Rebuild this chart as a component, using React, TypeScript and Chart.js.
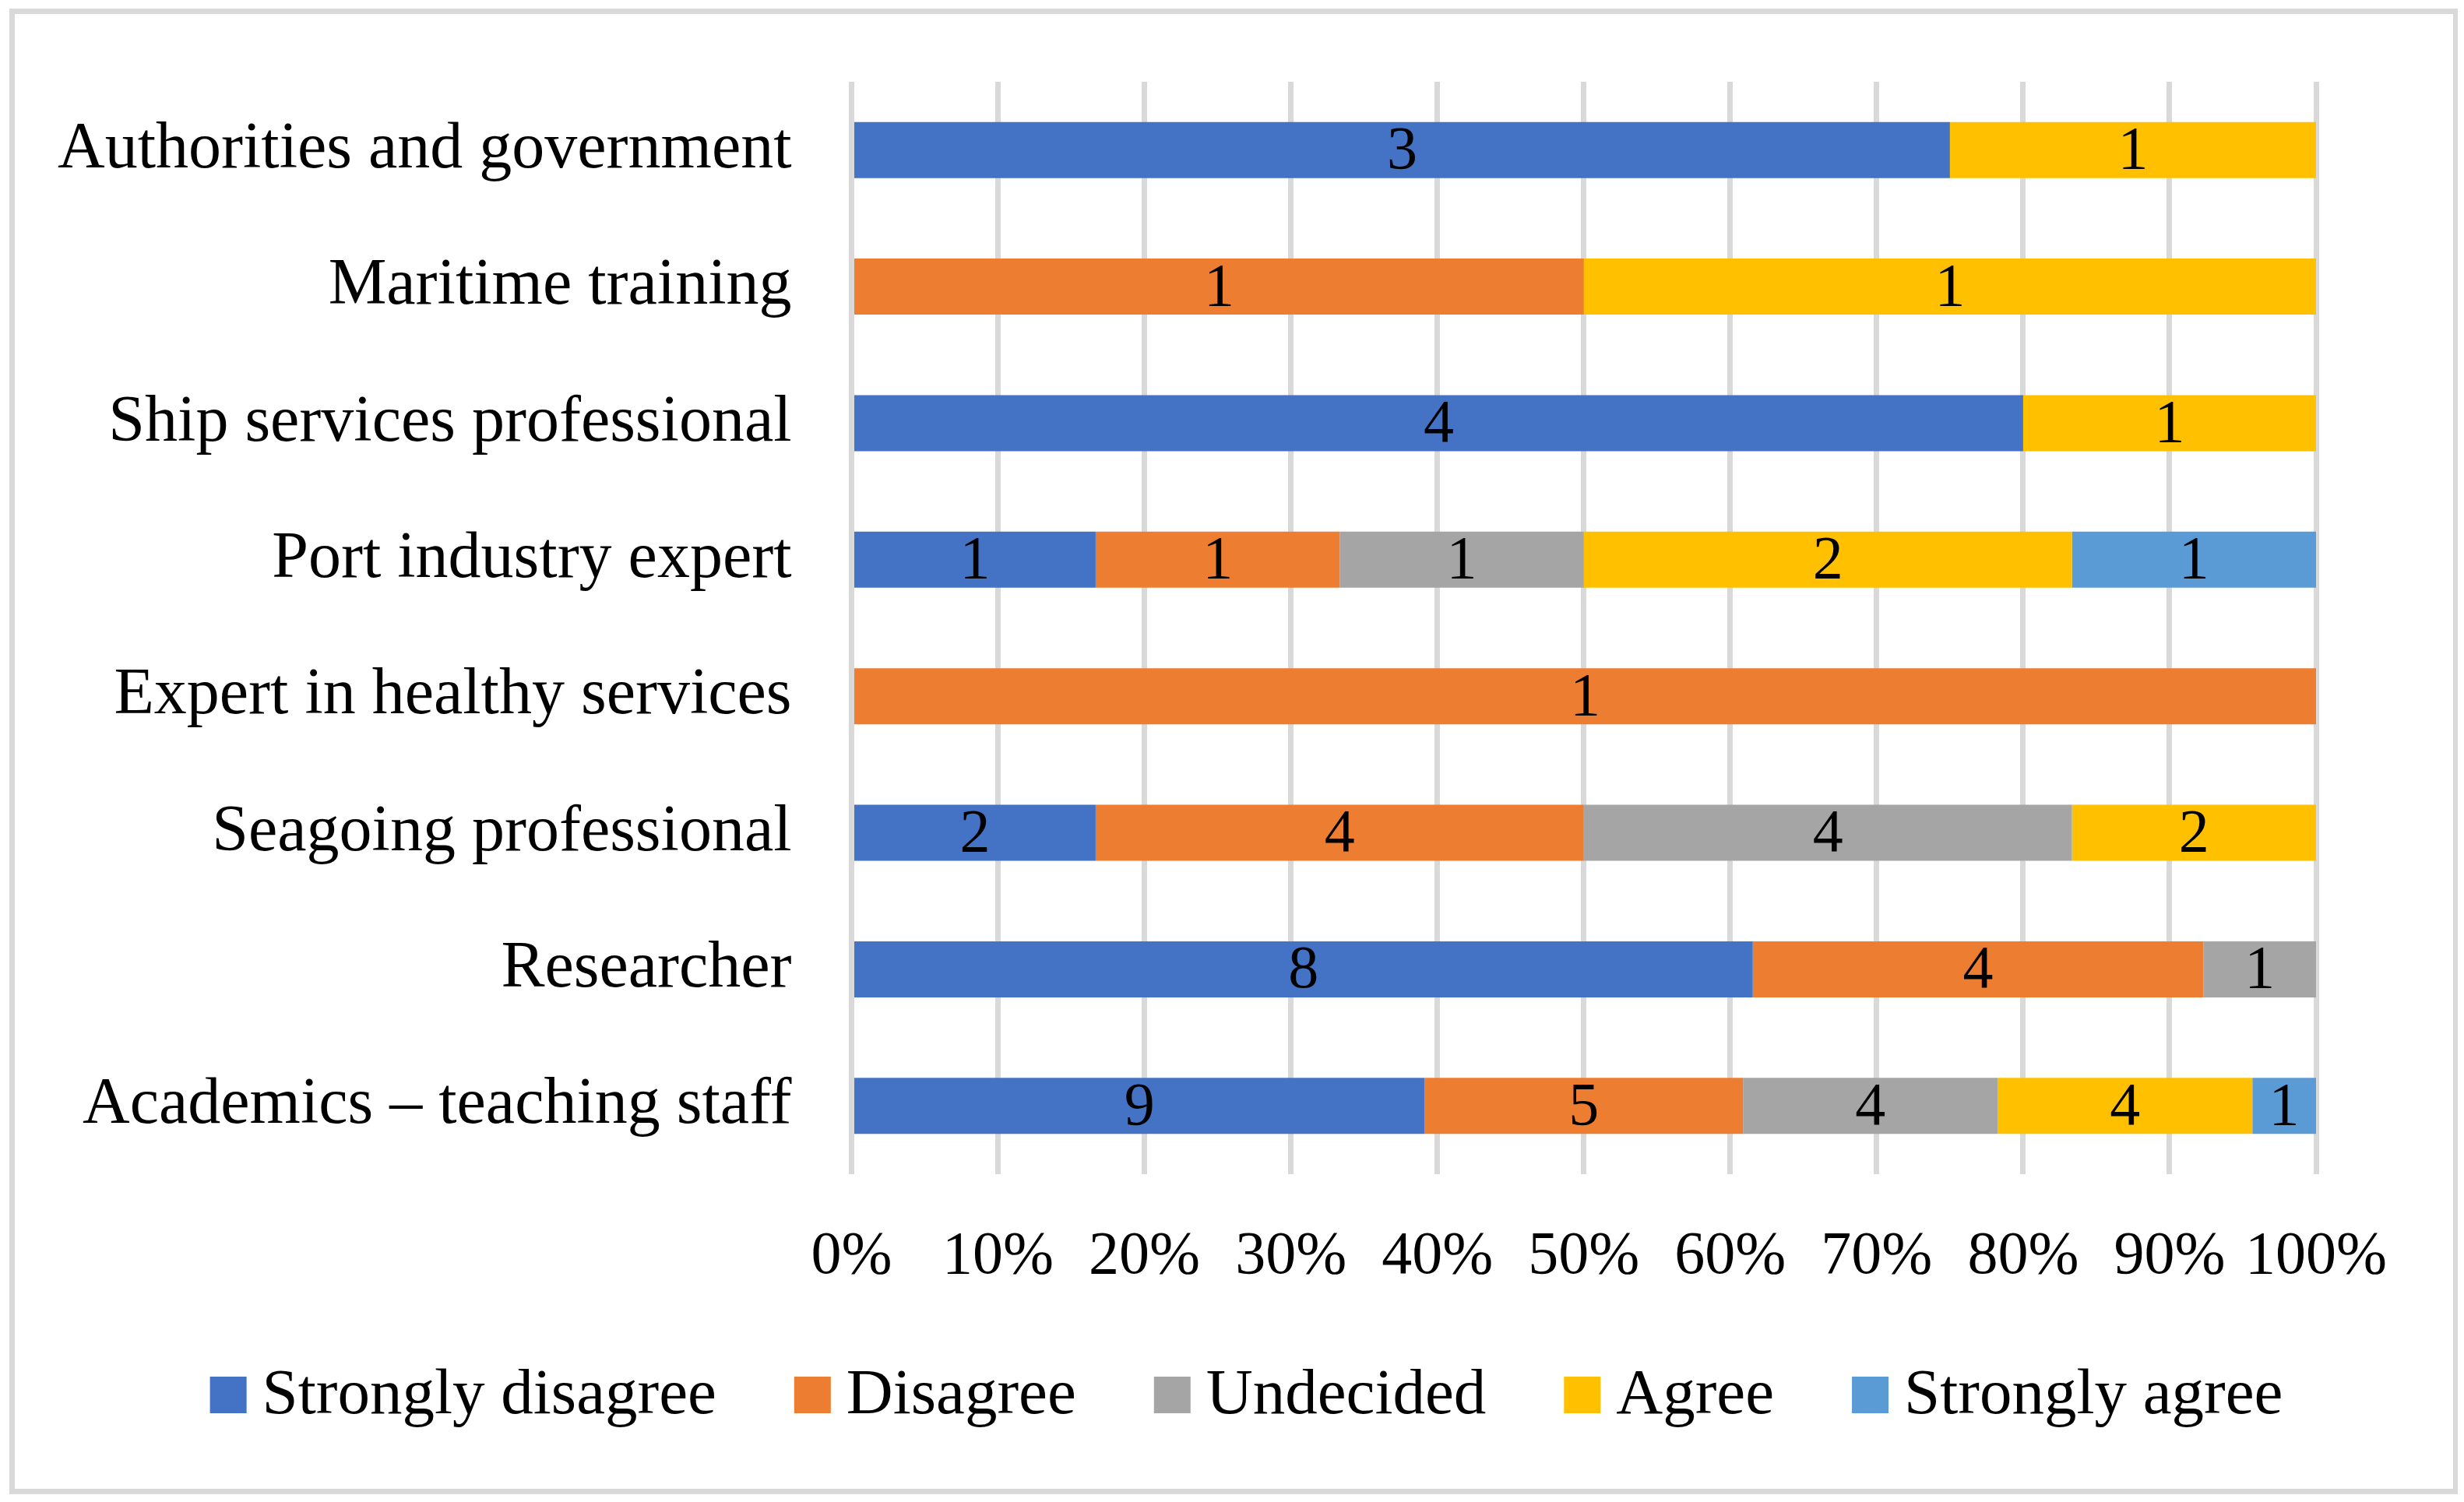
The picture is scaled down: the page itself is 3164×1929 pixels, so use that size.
import React, { useEffect, useRef } from "react";
import { Chart, registerables } from "chart.js";

Chart.register(...registerables);

const categories = [
  "Authorities and government",
  "Maritime training",
  "Ship services professional",
  "Port industry expert",
  "Expert in healthy services",
  "Seagoing professional",
  "Researcher",
  "Academics – teaching staff",
];
const seriesNames = ["Strongly disagree", "Disagree", "Undecided", "Agree", "Strongly agree"];
const stronglyDisagree = [3, 0, 4, 1, 0, 2, 8, 9];
const disagree = [0, 1, 0, 1, 1, 4, 4, 5];
const undecided = [0, 0, 0, 1, 0, 4, 1, 4];
const agree = [1, 1, 1, 2, 0, 2, 0, 4];
const stronglyAgree = [0, 0, 0, 1, 0, 0, 0, 1];
const seriesColors = ["#4472C4", "#ED7D31", "#A5A5A5", "#FFC000", "#5B9BD5"];
const xTickStep = 10;

const FONT = "'Liberation Serif', 'Times New Roman', serif";

const dataLabelPlugin = {
  id: "dataLabels",
  afterDatasetsDraw(chart: any) {
    const ctx = chart.ctx;
    ctx.save();
    ctx.font = `78px ${FONT}`;
    ctx.fillStyle = "#000000";
    ctx.textAlign = "center";
    ctx.textBaseline = "middle";
    chart.data.datasets.forEach((ds: any, i: number) => {
      const meta = chart.getDatasetMeta(i);
      meta.data.forEach((el: any, j: number) => {
        const c = ds.counts[j];
        if (!c) return;
        const p = el.getCenterPoint();
        ctx.fillText(String(c), p.x, p.y + 3);
      });
    });
    ctx.restore();
  },
};

const legendPlugin = {
  id: "customLegend",
  afterDraw(chart: any) {
    const ctx = chart.ctx;
    ctx.save();
    ctx.font = `83px ${FONT}`;
    const box = 47;
    const gapText = 20;
    const gapItem = 100;
    const items = chart.data.datasets.map((d: any) => ({
      label: d.label,
      color: d.backgroundColor,
      w: ctx.measureText(d.label).width,
    }));
    const total =
      items.reduce((s: number, it: any) => s + box + gapText + it.w, 0) + gapItem * (items.length - 1);
    let x = chart.width / 2 + 16 - total / 2;
    const baseline = chart.chartArea.bottom + 307;
    ctx.textBaseline = "alphabetic";
    ctx.textAlign = "left";
    items.forEach((it: any) => {
      ctx.fillStyle = it.color;
      ctx.fillRect(x, baseline - box, box, box);
      ctx.fillStyle = "#000000";
      ctx.fillText(it.label, x + box + gapText, baseline);
      x += box + gapText + it.w + gapItem;
    });
    ctx.restore();
  },
};

export default function App() {
  const canvasRef = useRef<HTMLCanvasElement | null>(null);

  useEffect(() => {
    if (!canvasRef.current) return;
    const raw = [stronglyDisagree, disagree, undecided, agree, stronglyAgree];
    const totals = categories.map((_, j) => raw.reduce((s, arr) => s + arr[j], 0));
    const datasets = raw.map((arr, i) => ({
      label: seriesNames[i],
      data: arr.map((v, j) => (v / totals[j]) * 100),
      counts: arr,
      backgroundColor: seriesColors[i],
      borderWidth: 0,
      barPercentage: 0.41,
      categoryPercentage: 1,
    }));

    const chart = new Chart(canvasRef.current, {
      type: "bar",
      data: { labels: categories, datasets: datasets as any },
      plugins: [dataLabelPlugin, legendPlugin],
      options: {
        animation: false,
        responsive: true,
        maintainAspectRatio: false,
        devicePixelRatio: 1,
        indexAxis: "y",
        layout: { padding: { top: 87, right: 176, left: 0, bottom: 0 } },
        plugins: {
          legend: { display: false },
          tooltip: { enabled: false },
          title: { display: false },
        },
        scales: {
          x: {
            stacked: true,
            min: 0,
            max: 100,
            ticks: {
              stepSize: xTickStep,
              callback: (v: any) => `${v}%`,
              font: { family: FONT, size: 78 },
              color: "#000000",
              padding: 60,
              maxRotation: 0,
              autoSkip: false,
            },
            grid: { color: "#D9D9D9", lineWidth: 7, drawTicks: false },
            border: { display: false },
            afterFit: (s: any) => {
              s.height = 404;
              s.paddingLeft = 0;
              s.paddingRight = 0;
            },
          },
          y: {
            stacked: true,
            ticks: {
              font: { family: FONT, size: 84 },
              color: "#000000",
              padding: 69,
              autoSkip: false,
            },
            grid: { display: false },
            border: { display: false },
            afterFit: (s: any) => {
              s.width = 1074.5;
              s.paddingTop = 0;
              s.paddingBottom = 0;
            },
          },
        },
      } as any,
    });
    return () => chart.destroy();
  }, []);

  return (
    <div
      style={{
        margin: "3px 0 0 4px",
        border: "7px solid #D9D9D9",
        width: 3131,
        height: 1894,
        background: "#ffffff",
        position: "relative",
      }}
    >
      <canvas ref={canvasRef} />
    </div>
  );
}
